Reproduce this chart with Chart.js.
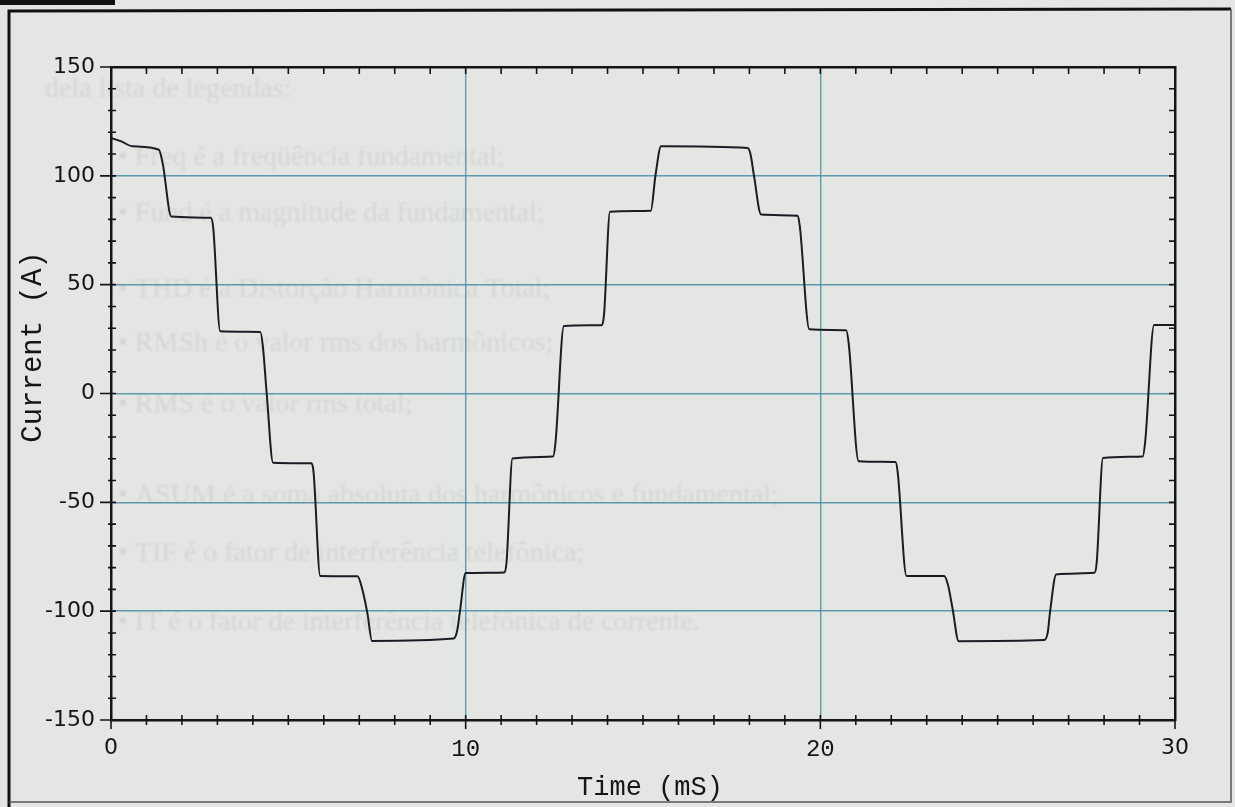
<!DOCTYPE html>
<html>
<head>
<meta charset="utf-8">
<title>Current (A) vs Time (mS)</title>
<script src="https://cdn.jsdelivr.net/npm/chart.js@4.4.1/dist/chart.umd.min.js"></script>
<style>
  html, body { margin: 0; padding: 0; background: #e4e6e3; }
  canvas { display: block; }
</style>
</head>
<body>
<canvas id="chart" width="1235" height="807"></canvas>
<script>
// stepped line current, three half-cycles over 30 ms
const timeMs = [
  0, 0.29, 0.6, 1.35, 1.46, 1.70,
  2.81, 2.88, 3.08,
  4.21, 4.28, 4.39, 4.57,
  5.65, 5.71, 5.90,
  6.95, 7.07, 7.23, 7.36,
  9.66, 9.76, 9.84, 10.0,
  11.09, 11.15, 11.32,
  12.46, 12.53, 12.77,
  13.84, 13.90, 14.07,
  15.22, 15.35, 15.51,
  17.95, 18.03, 18.13, 18.33,
  19.36, 19.42, 19.69,
  20.73, 20.80, 21.08,
  22.12, 22.18, 22.43,
  23.49, 23.60, 23.73, 23.90,
  26.31, 26.41, 26.48, 26.65,
  27.73, 27.79, 27.97,
  29.09, 29.16, 29.41,
  30.0
]
const currentA = [
  117.4, 115.8, 113.6, 112.0, 105.5, 81.3,
  80.7, 76.5, 28.6,
  28.3, 22.0, 0.0, -31.8,
  -32.1, -36.0, -83.9,
  -84.0, -89.0, -101.0, -113.7,
  -112.6, -109.0, -100.0, -82.5,
  -82.2, -78.0, -29.9,
  -29.0, -23.0, 31.0,
  31.4, 36.0, 83.5,
  84.0, 100.0, 113.6,
  112.8, 110.0, 100.0, 82.2,
  81.7, 77.0, 29.5,
  29.1, 23.0, -31.1,
  -31.5, -36.0, -83.8,
  -83.9, -88.0, -99.0, -113.8,
  -113.3, -110.0, -100.0, -83.1,
  -82.4, -78.0, -29.6,
  -28.9, -22.0, 31.5,
  31.5
]
const xTickValues = [0, 10, 20, 30]
const yTickValues = [-150, -100, -50, 0, 50, 100, 150]
const xGridValues = [10, 20]
const yGridValues = [-100, -50, 0, 50, 100]

// faint print from the back of the sheet
const backPageLines = [
  'dela lista de legendas:',
  '• Freq é a freqüência fundamental;',
  '• Fund é a magnitude da fundamental;',
  '• THD é a Distorção Harmônica Total;',
  '• RMSh é o valor rms dos harmônicos;',
  '• RMS é o valor rms total;',
  '• ASUM é a soma absoluta dos harmônicos e fundamental;',
  '• TIF é o fator de interferência telefônica;',
  '• IT é o fator de interferência telefônica de corrente.'
]

const PAPER = '#e4e6e3'
const AXIS = '#151515'
const GRID = 'rgba(70, 140, 165, 0.85)'
const MONO = '"Liberation Mono", "DejaVu Sans Mono", monospace'
const SANS = '"DejaVu Sans", Verdana, sans-serif'

const paper = {
  id: 'paper',
  beforeDraw (chart) {
    const { ctx, width, height } = chart
    ctx.save()
    ctx.fillStyle = PAPER
    ctx.fillRect(0, 0, width, height)

    ctx.save()
    ctx.filter = 'blur(1px)'
    ctx.fillStyle = 'rgba(0, 0, 0, 0.07)'
    ctx.font = '28px "Liberation Serif", serif'
    ctx.textBaseline = 'middle'
    const rows = [[45, 90], [118, 158], [118, 214], [118, 290], [118, 344], [118, 405], [118, 496], [118, 554], [118, 623]]
    backPageLines.forEach((s, i) => ctx.fillText(s, rows[i][0], rows[i][1]))
    ctx.restore()

    // sheet edge and frame
    ctx.fillStyle = '#111'
    ctx.fillRect(0, 0, 115, 5)
    ctx.strokeStyle = '#111'
    ctx.lineWidth = 3
    ctx.beginPath()
    ctx.moveTo(9, 807)
    ctx.lineTo(9, 11)
    ctx.lineTo(1231, 9)
    ctx.stroke()
    ctx.strokeStyle = '#555'
    ctx.lineWidth = 1.5
    ctx.beginPath()
    ctx.moveTo(1231, 9)
    ctx.lineTo(1231, 802)
    ctx.lineTo(9, 802)
    ctx.stroke()
    ctx.restore()
  }
}

const tickMarks = {
  id: 'tickMarks',
  afterDraw (chart) {
    const { ctx, chartArea: a, scales: { x, y } } = chart
    ctx.save()
    ctx.strokeStyle = AXIS
    ctx.lineWidth = 1.6
    ctx.beginPath()
    for (let t = 0; t <= 30; t++) {
      const px = x.getPixelForValue(t)
      const major = t % 10 === 0
      if (t > 0 && t < 30) {
        ctx.moveTo(px, a.top)
        ctx.lineTo(px, a.top + 7)
        ctx.moveTo(px, a.bottom - 5)
      } else {
        ctx.moveTo(px, a.bottom)
      }
      ctx.lineTo(px, a.bottom + (major ? 9 : 5))
    }
    for (let v = -150; v <= 150; v += 10) {
      const py = y.getPixelForValue(v)
      const major = v % 50 === 0
      ctx.moveTo(a.left - (major ? 11 : 3), py)
      ctx.lineTo(a.left + (Math.abs(v) === 150 ? 0 : 5), py)
      if (Math.abs(v) < 150) {
        ctx.moveTo(a.right - 6, py)
        ctx.lineTo(a.right, py)
      }
    }
    ctx.stroke()

    // axis titles
    ctx.fillStyle = AXIS
    ctx.textAlign = 'center'
    ctx.textBaseline = 'middle'
    ctx.font = '27px ' + MONO
    ctx.fillText('Time (mS)', 650, 788)
    ctx.translate(33, 347)
    ctx.rotate(-Math.PI / 2)
    ctx.font = '29px ' + MONO
    ctx.fillText('Current (A)', 0, 0)
    ctx.restore()
  }
}

const points = timeMs.map((t, i) => ({ x: t, y: currentA[i] }))

const frameAxis = (position, size) => ({
  type: 'linear',
  position,
  min: position === 'top' ? 0 : -150,
  max: position === 'top' ? 30 : 150,
  afterFit: s => { if (s.isHorizontal()) s.height = size; else s.width = size },
  grid: { display: false, drawTicks: false },
  border: { color: AXIS, width: 2.5 },
  ticks: { display: false }
})

new Chart(document.getElementById('chart').getContext('2d'), {
  type: 'line',
  data: {
    datasets: [{
      label: 'Current (A)',
      data: points,
      borderColor: '#1b1b26',
      borderWidth: 2,
      pointRadius: 0,
      cubicInterpolationMode: 'monotone',
      fill: false
    }]
  },
  options: {
    responsive: false,
    animation: false,
    layout: { padding: 0 },
    plugins: {
      legend: { display: false },
      tooltip: { enabled: false }
    },
    scales: {
      x: {
        type: 'linear',
        position: 'bottom',
        min: 0,
        max: 30,
        afterBuildTicks: s => { s.ticks = xTickValues.map(v => ({ value: v })) },
        afterFit: s => { s.height = 87 },
        grid: {
          color: c => xGridValues.includes(c.tick && c.tick.value) ? GRID : 'rgba(0,0,0,0)',
          lineWidth: 1.4,
          drawTicks: false
        },
        border: { color: AXIS, width: 2.5 },
        ticks: {
          padding: 15,
          color: AXIS,
          maxRotation: 0,
          autoSkip: false,
          font: c => (c.tick && (c.tick.value === 10 || c.tick.value === 20))
            ? { family: MONO, size: 24 }
            : { family: SANS, size: 22 },
          callback: v => String(v)
        }
      },
      xTop: frameAxis('top', 67),
      y: {
        type: 'linear',
        position: 'left',
        min: -150,
        max: 150,
        afterBuildTicks: s => { s.ticks = yTickValues.map(v => ({ value: v })) },
        afterFit: s => { s.width = 111 },
        grid: {
          color: c => yGridValues.includes(c.tick && c.tick.value) ? GRID : 'rgba(0,0,0,0)',
          lineWidth: 1.4,
          drawTicks: false
        },
        border: { color: AXIS, width: 2.5 },
        ticks: {
          padding: 16,
          color: AXIS,
          font: { family: SANS, size: 22 },
          callback: v => String(v)
        }
      },
      yRight: frameAxis('right', 60)
    }
  },
  plugins: [paper, tickMarks]
})
</script>
</body>
</html>
